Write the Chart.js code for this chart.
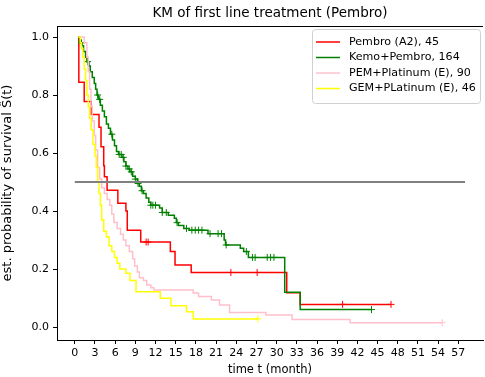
<!DOCTYPE html>
<html>
<head>
<meta charset="utf-8">
<script src="https://cdn.jsdelivr.net/npm/chart.js@4.4.0/dist/chart.umd.min.js"></script>
<style>
  html, body { margin: 0; padding: 0; background: #fff; overflow: hidden; }
  #wrap { width: 488px; height: 377px; }
</style>
</head>
<body>
<div id="wrap"><canvas id="km" width="488" height="377"></canvas></div>
<script>
// 组名与颜色
const groupNames = ['Pembro (A2), 45', 'Kemo+Pembro, 164', 'PEM+Platinum (E), 90', 'GEM+PLatinum (E), 46'];
const groupColors = ['#ff0000', '#008000', '#ffc0cb', '#ffff00'];

// KM 阶梯点：时间 (月) / 生存概率
const redT = [0.5, 0.6, 1.4, 2.45, 3.6, 3.9, 4.3, 4.4, 4.8, 6.4, 7.6, 7.8, 9.8, 14.2, 14.9, 17.3, 31.5, 33.5, 47.0];
const redS = [1.0, 0.844, 0.778, 0.733, 0.689, 0.622, 0.556, 0.518, 0.472, 0.427, 0.40, 0.334, 0.293, 0.26, 0.214, 0.188, 0.118, 0.078, 0.078];
const redCensor = [10.6, 10.9, 23.2, 27.1, 39.8, 47.0];

const greenT = [0.5, 0.7, 1.1, 1.3, 1.6, 1.8, 2.1, 2.3, 2.6, 2.9, 3.1, 3.3, 3.5, 3.8, 4.1, 4.4, 4.7, 5.0, 5.3, 5.6, 5.9, 6.2, 6.5, 7.0, 7.3, 7.6, 7.9, 8.2, 8.6, 9.0, 9.3, 9.6, 9.9, 10.2, 10.6, 11.0, 11.3, 12.6, 13.0, 13.9, 14.8, 15.1, 15.4, 16.2, 17.0, 19.8, 22.2, 22.4, 24.6, 25.1, 25.8, 31.2, 33.5, 44.1];
const greenS = [1.0, 0.98, 0.97, 0.95, 0.93, 0.915, 0.90, 0.88, 0.86, 0.84, 0.82, 0.80, 0.785, 0.765, 0.745, 0.725, 0.70, 0.685, 0.665, 0.645, 0.625, 0.605, 0.595, 0.585, 0.57, 0.555, 0.545, 0.535, 0.52, 0.51, 0.495, 0.485, 0.47, 0.46, 0.445, 0.43, 0.42, 0.41, 0.395, 0.385, 0.375, 0.36, 0.35, 0.34, 0.334, 0.322, 0.30, 0.283, 0.272, 0.26, 0.24, 0.12, 0.06, 0.06];
const greenCensor = [1.0, 1.9, 3.4, 3.7, 5.5, 6.6, 6.9, 7.2, 7.6, 8.1, 8.4, 9.0, 9.4, 10.0, 11.3, 11.6, 12.0, 13.0, 13.6, 15.2, 16.6, 17.4, 17.9, 18.4, 18.9, 20.1, 21.3, 21.8, 22.5, 25.5, 26.4, 26.8, 28.6, 29.1, 29.6, 44.1];

const pinkT = [0.7, 1.4, 1.8, 2.0, 2.2, 2.4, 2.6, 2.9, 3.1, 3.4, 3.7, 4.0, 4.4, 4.8, 5.2, 5.5, 5.8, 6.3, 6.8, 7.2, 7.6, 8.1, 8.6, 8.9, 9.3, 9.6, 10.2, 10.7, 11.3, 11.75, 17.6, 18.4, 20.3, 21.5, 23.0, 28.4, 32.3, 40.9, 54.6];
const pinkS = [1.0, 0.98, 0.93, 0.88, 0.82, 0.76, 0.71, 0.66, 0.61, 0.55, 0.51, 0.48, 0.46, 0.44, 0.42, 0.39, 0.36, 0.34, 0.32, 0.30, 0.28, 0.26, 0.235, 0.21, 0.19, 0.17, 0.16, 0.145, 0.135, 0.128, 0.117, 0.105, 0.093, 0.076, 0.05, 0.041, 0.026, 0.015, 0.015];
const pinkCensor = [54.6];

const yellowT = [0.5, 0.8, 1.0, 1.2, 1.4, 1.6, 1.8, 2.0, 2.2, 2.45, 2.7, 3.0, 3.2, 3.4, 3.6, 3.8, 4.0, 4.3, 4.7, 5.1, 5.5, 5.9, 6.3, 6.7, 7.6, 8.2, 9.1, 12.7, 14.3, 16.6, 17.6, 27.2];
const yellowS = [1.0, 0.98, 0.96, 0.93, 0.89, 0.85, 0.80, 0.76, 0.72, 0.68, 0.63, 0.59, 0.55, 0.50, 0.46, 0.42, 0.37, 0.33, 0.31, 0.28, 0.26, 0.24, 0.22, 0.20, 0.185, 0.16, 0.122, 0.099, 0.073, 0.053, 0.028, 0.028];
const yellowCensor = [27.2];

// 坐标轴刻度
const xTicks = [0, 3, 6, 9, 12, 15, 18, 21, 24, 27, 30, 33, 36, 39, 42, 45, 48, 51, 54, 57];
const yTicks = [0.0, 0.2, 0.4, 0.6, 0.8, 1.0];

// 0.5 参考线
const refLineX = [0, 58];
const refLineY = 0.5;

const groupT = [redT, greenT, pinkT, yellowT];
const groupS = [redS, greenS, pinkS, yellowS];
const groupCensor = [redCensor, greenCensor, pinkCensor, yellowCensor];

// 某时刻的生存概率（阶梯函数）
function survivalAt(T, S, t) {
    let v = S[0];
    for (let i = 0; i < T.length; i++) {
        if (T[i] <= t) v = S[i];
    }
    return v;
}

const datasets = [];
groupNames.forEach(function(name, g) {
    datasets.push({
        label: name,
        data: groupT[g].map((t, i) => ({ x: t, y: groupS[g][i] })),
        stepped: true,
        borderColor: groupColors[g],
        borderWidth: 1.5,
        pointRadius: 0,
        fill: false,
        order: 4 - g
    });
    datasets.push({
        label: name + ' censor',
        data: groupCensor[g].map(t => ({ x: t, y: survivalAt(groupT[g], groupS[g], t) })),
        showLine: false,
        pointStyle: 'cross',
        pointRadius: 3.5,
        borderColor: groupColors[g],
        borderWidth: 1,
        order: 4 - g
    });
});
datasets.push({
    label: 'ref',
    data: refLineX.map(x => ({ x: x, y: refLineY })),
    borderColor: '#808080',
    borderWidth: 2,
    pointRadius: 0,
    order: 0
});

// 标题、上边框和图例
const decorPlugin = {
    id: 'decor',
    afterDraw(chart) {
        const ctx = chart.ctx;
        const a = chart.chartArea;
        ctx.save();
        // 上边框
        ctx.strokeStyle = '#000';
        ctx.lineWidth = 1;
        ctx.beginPath();
        ctx.moveTo(a.left, a.top + 0.5);
        ctx.lineTo(a.right, a.top + 0.5);
        ctx.stroke();
        // 标题
        ctx.fillStyle = '#000';
        ctx.font = '13.5px "DejaVu Sans"';
        ctx.textAlign = 'center';
        ctx.textBaseline = 'middle';
        ctx.fillText('KM of first line treatment (Pembro)', (a.left + a.right) / 2, 13);
        // 图例
        const bx = 312, by = 29, bw = 168, bh = 74;
        ctx.fillStyle = 'rgba(255,255,255,0.9)';
        ctx.strokeStyle = '#d0d0d0';
        ctx.beginPath();
        ctx.roundRect(bx + 0.5, by + 0.5, bw, bh, 3);
        ctx.fill();
        ctx.stroke();
        ctx.font = '11.1px "DejaVu Sans"';
        ctx.textAlign = 'left';
        groupNames.forEach(function(name, g) {
            const yy = by + 13 + g * 15.5;
            ctx.strokeStyle = groupColors[g];
            ctx.lineWidth = 1.5;
            ctx.beginPath();
            ctx.moveTo(bx + 4, yy);
            ctx.lineTo(bx + 28, yy);
            ctx.stroke();
            ctx.fillStyle = '#000';
            ctx.fillText(name, bx + 37, yy);
        });
        ctx.restore();
    }
};

const tickFont = { family: 'DejaVu Sans', size: 11 };

new Chart(document.getElementById('km').getContext('2d'), {
    type: 'line',
    data: { datasets: datasets },
    options: {
        responsive: false,
        animation: false,
        layout: { padding: { top: 26, left: 0, right: 0, bottom: 0 } },
        plugins: {
            legend: { display: false },
            tooltip: { enabled: false },
            title: { display: false }
        },
        scales: {
            x: {
                type: 'linear',
                min: -2.644,
                max: 60.67,
                afterBuildTicks: function(scale) {
                    scale.ticks = xTicks.map(v => ({ value: v }));
                },
                afterFit: function(scale) { scale.height = 37; },
                ticks: { color: '#000', font: tickFont, padding: 3, maxRotation: 0, autoSkip: false },
                grid: { drawOnChartArea: false, drawTicks: true, tickLength: 4, color: '#000' },
                border: { color: '#000', width: 1 },
                title: { display: true, text: 'time t (month)', color: '#000', font: { family: 'DejaVu Sans', size: 11.5 }, padding: { top: 0, bottom: 0 } }
            },
            y: {
                type: 'linear',
                min: -0.0448,
                max: 1.038,
                afterBuildTicks: function(scale) {
                    scale.ticks = yTicks.map(v => ({ value: v }));
                },
                afterFit: function(scale) { scale.width = 57; },
                ticks: {
                    color: '#000', font: tickFont, padding: 4, autoSkip: false,
                    callback: function(v) { return v.toFixed(1); }
                },
                grid: { drawOnChartArea: false, drawTicks: true, tickLength: 4, color: '#000' },
                border: { color: '#000', width: 1 },
                title: { display: true, text: 'est. probability of survival Ŝ(t)', color: '#000', font: { family: 'DejaVu Sans', size: 13 }, padding: 0 }
            }
        }
    },
    plugins: [decorPlugin]
});
</script>
</body>
</html>
